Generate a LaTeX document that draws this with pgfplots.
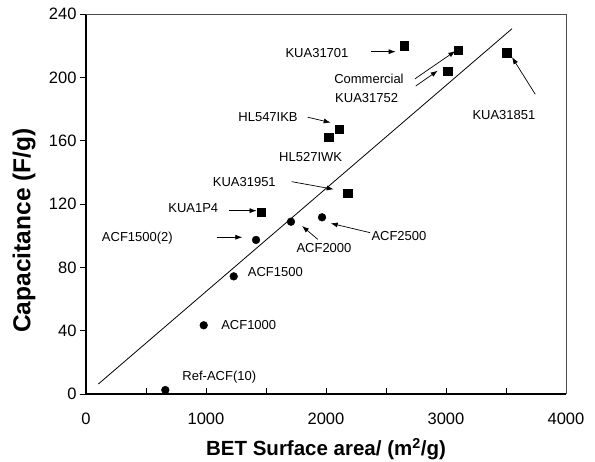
\documentclass[border=0pt]{standalone}
\usepackage{fontspec}
\setmainfont{Liberation Sans}
\usepackage{pgfplots}
\pgfplotsset{compat=1.18}
\usetikzlibrary{arrows.meta}
\tikzset{
 ann/.style={font=\fontsize{13}{15}\selectfont,inner sep=0pt},
 arr/.style={-{Latex[length=7pt,width=5pt]},line width=0.7pt},
}

\begin{document}
\begin{tikzpicture}
\useasboundingbox (-86pt,-68pt) rectangle (509pt,394pt);
\begin{axis}[
 at={(0,0)},anchor=south west,
 scale only axis,width=480pt,height=380pt,
 xmin=0,xmax=4000,ymin=0,ymax=240,clip=false,
 axis x line*=bottom,axis y line*=left,
 axis line style={-,black,line width=1.2pt},
 tick align=outside,major tick length=6pt,
 xtick={0,500,...,4000},xticklabels={0,,1000,,2000,,3000,,4000},
 ytick={0,40,...,240},
 xtick style={black,line width=0.8pt,yshift=6pt},
 ytick style={black,line width=0.8pt},
 tick label style={font=\fontsize{16.5}{18}\selectfont},
 xticklabel style={yshift=-9pt},
 /pgf/number format/assume math mode=true,
 xlabel={BET Surface area/ (m\textsuperscript{2}/g)},
 ylabel={Capacitance (F/g)},
 every axis x label/.style={at={(axis description cs:0.5,-0.163)},anchor=base,font=\bfseries\fontsize{20.5}{24}\selectfont},
 every axis y label/.style={at={(axis description cs:-0.129,0.43)},rotate=90,anchor=center,font=\bfseries\fontsize{24.5}{28}\selectfont},
]
% fit line
\addplot[black,line width=0.8pt] coordinates {(103,6.3) (3550,230.7)};
% KUA / HL / commercial samples
\addplot[only marks,mark=square*,mark size=4.2pt,black] coordinates {
 (2650,220) (3100,217) (3014,204) (3506,215.6)
 (2108,167.4) (2022,162) (2181,126.8) (1458,114.8)};
% ACF samples
\addplot[only marks,mark=*,mark size=3.9pt,black] coordinates {
 (1708,108.8) (1967,111.6) (1417,97.3) (1231,74.3) (981,43.4) (661,2.5)};

\node[ann] at (axis cs:1925,215.4) {KUA31701};
\node[ann] at (axis cs:2358,199.0) {Commercial};
\node[ann] at (axis cs:2339,187.1) {KUA31752};
\node[ann] at (axis cs:3483,176.2) {KUA31851};
\node[ann] at (axis cs:1517,175.0) {HL547IKB};
\node[ann] at (axis cs:1872,149.5) {HL527IWK};
\node[ann] at (axis cs:1319,134.1) {KUA31951};
\node[ann] at (axis cs:894,117.3) {KUA1P4};
\node[ann] at (axis cs:2608,99.8) {ACF2500};
\node[ann] at (axis cs:1983,92.0) {ACF2000};
\node[ann] at (axis cs:428,98.3) {ACF1500(2)};
\node[ann] at (axis cs:1578,77.2) {ACF1500};
\node[ann] at (axis cs:1356,43.4) {ACF1000};
\node[ann] at (axis cs:1111,10.5) {Ref-ACF(10)};

\draw[arr] (axis cs:2373,216.2) -- (axis cs:2581,216.2);
\draw[arr] (axis cs:2742,199.1) -- (axis cs:3078,216.6);
\draw[arr] (axis cs:2748,194.5) -- (axis cs:2931,204.2);
\draw[arr] (axis cs:3744,189.3) -- (axis cs:3550,212.7);
\draw[arr] (axis cs:1848,174.8) -- (axis cs:2039,171.4);
\draw[arr] (axis cs:1714,134.1) -- (axis cs:2064,129.3);
\draw[arr] (axis cs:1192,115.8) -- (axis cs:1422,115.8);
\draw[arr] (axis cs:2367,101.9) -- (axis cs:2039,107.8);
\draw[arr] (axis cs:1931,97.7) -- (axis cs:1800,106.1);
\draw[arr] (axis cs:1089,99.0) -- (axis cs:1303,99.0);

\draw[gray!60!black,line width=0.7pt] (rel axis cs:0,1) -- (rel axis cs:1,1) -- (rel axis cs:1,0);
\end{axis}
\end{tikzpicture}
\end{document}
